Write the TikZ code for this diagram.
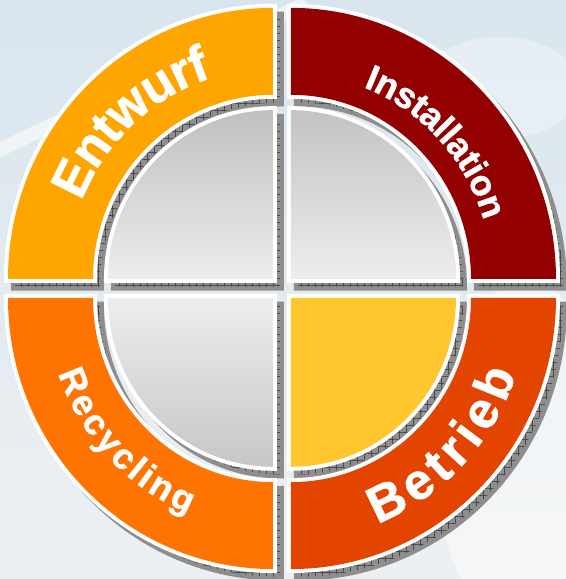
\documentclass[tikz,border=0pt]{standalone}
\usepackage{fontspec}
\newfontfamily\wfont{Liberation Sans}[BoldFeatures={FakeBold=1.2}]
\usetikzlibrary{patterns.meta}
\definecolor{entw}{HTML}{FFA500}
\definecolor{inst}{HTML}{920000}
\definecolor{recy}{HTML}{FF7300}
\definecolor{betr}{HTML}{E34400}
\definecolor{yell}{HTML}{FFC62E}
\definecolor{shad}{HTML}{8E8E8E}
\definecolor{shadline}{HTML}{4A4A4A}
\definecolor{bgtop}{HTML}{D9E5EE}
\definecolor{bgbot}{HTML}{EDF0F2}
\definecolor{greyA}{HTML}{C0C0C0}
\definecolor{greyB}{HTML}{EDEDED}
\newdimen\ArcLen
\newsavebox\ArcBox
% #1 corner x,y ; #2 baseline radius ; #3 first-letter angle ; #4 last-letter angle
% #5 rotation offset ; #6 font ; #7 letters ; #8 name prefix
\newcommand\ArcWord[8]{%
  \gdef\AWsum{0}\gdef\AWn{0}\gdef\AWfirst{0}\gdef\AWlast{0}%
  \foreach \L in {#7}{%
    \pgfinterruptpicture\global\setbox\ArcBox\hbox{#6\L}\endpgfinterruptpicture
    \ArcLen=\wd\ArcBox
    \pgfmathsetmacro\AWtmp{\AWsum+\ArcLen}\global\let\AWsum\AWtmp
    \pgfmathtruncatemacro\AWtmpn{\AWn+1}\global\let\AWn\AWtmpn
    \ifnum\AWn=1 \pgfmathsetmacro\AWtmpf{\ArcLen/2}\global\let\AWfirst\AWtmpf\fi
    \pgfmathsetmacro\AWtmpl{\ArcLen/2}\global\let\AWlast\AWtmpl
  }%
  \pgfmathsetmacro\AWspan{abs(#4-#3)*pi/180*#2}%
  \pgfmathsetmacro\AWtrack{(\AWspan-(\AWsum-\AWfirst-\AWlast))/(\AWn-1)}%
  \pgfmathsetmacro\AWsign{sign(#4-#3)}%
  \gdef\AWpos{0}%
  \foreach \L [count=\i] in {#7}{%
    \pgfinterruptpicture\global\setbox\ArcBox\hbox{#6\L}\endpgfinterruptpicture
    \ArcLen=\wd\ArcBox
    \pgfmathsetmacro\AWc{\AWpos+\ArcLen/2-\AWfirst}%
    \pgfmathsetmacro\AWth{#3+\AWsign*\AWc/#2*180/pi}%
    \pgfmathsetmacro\AWrot{\AWth+#5}%
    \node[letter, font=#6, rotate=\AWrot] (#8-\i) at ([shift={(\AWth:#2)}]#1) {\L};
    \pgfmathsetmacro\AWtmpp{\AWpos+\ArcLen+\AWtrack}\global\let\AWpos\AWtmpp
  }%
}
\def\fbig{\wfont\bfseries\fontsize{51}{51}\selectfont}
\def\fsmall{\wfont\bfseries\fontsize{36}{36}\selectfont}
\begin{document}
\begin{tikzpicture}[x=1pt,y=1.023pt,
  ringp/.style n args={3}{insert path={([shift={(#2:265)}]#1) arc[start angle=#2, end angle=#3, radius=265] -- ([shift={(#3:180)}]#1) arc[start angle=#3, end angle=#2, radius=180] -- cycle}},
  quadp/.style n args={3}{insert path={(#1) -- ([shift={(#2:165)}]#1) arc[start angle=#2, end angle=#3, radius=165] -- cycle}},
  shadow/.style={fill=shad, draw=shad, line width=8pt, line join=miter,
    postaction={pattern={Hatch[angle=0,distance=7pt,line width=0.5pt]}, pattern color=shadline}},
  piece/.style={preaction={draw=white, line width=8pt, line join=miter}},
  letter/.style={anchor=base, inner sep=0pt, text=white}
]
\useasboundingbox (0,0) rectangle (566,566);
% background
\shade[top color=bgtop, bottom color=bgbot] (0,0) rectangle (566,566);
\draw[white, opacity=0.55, line width=14pt, line cap=round] (-10,415) -- (300,560);
\fill[white, opacity=0.45] (525,120) ellipse [x radius=90, y radius=170];
\fill[white, opacity=0.35] (500,480) ellipse [x radius=80, y radius=50];
% shadows
\begin{scope}[shift={(7,-7.5)}]
  \path[shadow, ringp={273,293.3}{90}{180}];
  \path[shadow, ringp={291,293.3}{0}{90}];
  \path[shadow, ringp={273,274.7}{180}{270}];
  \path[shadow, ringp={291,274.7}{270}{360}];
  \path[shadow, quadp={273,293.3}{90}{180}];
  \path[shadow, quadp={291,293.3}{0}{90}];
  \path[shadow, quadp={273,274.7}{180}{270}];
  \path[shadow, quadp={291,274.7}{270}{360}];
\end{scope}
% rings
\path[piece, fill=entw, ringp={273,293.3}{90}{180}];
\path[piece, fill=inst, ringp={291,293.3}{0}{90}];
\path[piece, fill=recy, ringp={273,274.7}{180}{270}];
\path[piece, fill=betr, ringp={291,274.7}{270}{360}];
% inner quadrants
\path[piece, top color=greyA, bottom color=greyB, quadp={273,293.3}{90}{180}];
\path[piece, top color=greyA!95!white, bottom color=greyB, quadp={291,293.3}{0}{90}];
\path[piece, top color=greyB, bottom color=greyA!90!white, quadp={273,274.7}{180}{270}];
\path[piece, fill=yell, quadp={291,274.7}{270}{360}];
% labels
\ArcWord{273,293.3}{206}{153.7}{109.7}{-90}{\fbig}{E,n,t,w,u,r,f}{entwurf}
\ArcWord{291,293.3}{201}{67.45}{19.56}{-90}{\fsmall}{I,n,s,t,a,l,l,a,t,i,o,n}{installation}
\ArcWord{291,274.7}{237}{-64.2}{-22.0}{90}{\fbig}{B,e,t,r,i,e,b}{betrieb}
\ArcWord{273,274.7}{227}{202.2}{245.3}{90}{\fsmall}{R,e,c,y,c,l,i,n,g}{recycling}
\end{tikzpicture}
\end{document}
